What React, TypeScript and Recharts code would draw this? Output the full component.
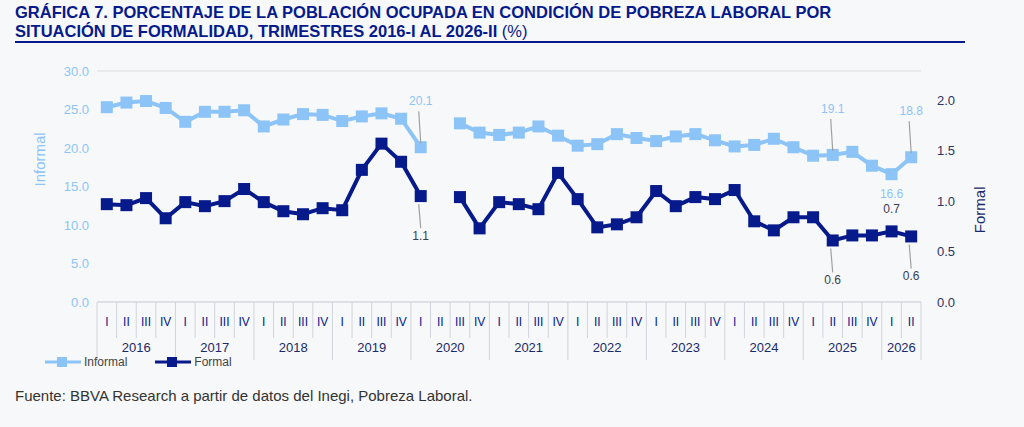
import React from "react"
import { LineChart, Line, XAxis, YAxis, CartesianGrid, LabelList } from "recharts"

const quarters = ["I", "II", "III", "IV"]
const years = ["2016", "2017", "2018", "2019", "2020", "2021", "2022", "2023", "2024", "2025", "2026"]

const informal: (number | null)[] = [
  25.3, 25.9, 26.1, 25.2,
  23.4, 24.7, 24.7, 24.9,
  22.8, 23.7, 24.4, 24.3,
  23.5, 24.1, 24.5, 23.8,
  20.1, null, 23.2, 22.0,
  21.7, 22.0, 22.8, 21.6,
  20.3, 20.5, 21.8, 21.3,
  20.9, 21.5, 21.8, 21.0,
  20.2, 20.4, 21.2, 20.1,
  19.0, 19.1, 19.5, 17.7,
  16.6, 18.8,
]

const formal: (number | null)[] = [
  0.97, 0.96, 1.03, 0.83,
  0.99, 0.95, 1.0, 1.12,
  0.99, 0.9, 0.87, 0.93,
  0.91, 1.31, 1.57, 1.39,
  1.05, null, 1.04, 0.73,
  0.99, 0.97, 0.92, 1.28,
  1.02, 0.74, 0.77, 0.84,
  1.1, 0.95, 1.04, 1.02,
  1.11, 0.8, 0.71, 0.84,
  0.84, 0.61, 0.66, 0.66,
  0.7, 0.65,
]

// labelled points: index -> [text, position, leader line]
const informalLabels: Record<number, [string, "up" | "down", boolean]> = {
  16: ["20.1", "up", true],
  37: ["19.1", "up", true],
  40: ["16.6", "down", false],
  41: ["18.8", "up", true],
}
const formalLabels: Record<number, [string, "up" | "down", boolean]> = {
  16: ["1.1", "down", true],
  37: ["0.6", "down", true],
  40: ["0.7", "up", false],
  41: ["0.6", "down", true],
}

const data = informal.map((v, i) => ({
  key: `${years[Math.floor(i / 4)]}-${quarters[i % 4]}`,
  q: quarters[i % 4],
  year: years[Math.floor(i / 4)],
  informal: v,
  formal: formal[i],
}))

const LIGHT = "#8cc4f7"
const NAVY = "#061a8c"
const FONT = "'Liberation Sans', Arial, sans-serif"
const PLOT_L = 97
const PLOT_R = 921
const BW = (PLOT_R - PLOT_L) / data.length

const Square = (color: string) => (props: any) => {
  const { cx, cy, value } = props
  if (value == null || cx == null) return null
  return <rect x={cx - 6} y={cy - 6} width={12} height={12} fill={color} />
}

const makeLabel = (labels: typeof informalLabels, color: string) => (props: any) => {
  const { x, y, width, index } = props
  const l = labels[index]
  if (!l) return null
  const cx = x + (width || 0) / 2
  const [text, pos, line] = l
  const up = pos === "up"
  const ty = line ? (up ? y - 42 : y + 44) : up ? y - 18 : y + 24
  return (
    <g>
      {line && (
        <line x1={cx - 2} y1={up ? y - 36 : y + 8} x2={cx} y2={up ? y - 4 : y + 32} stroke="#a0a0a0" strokeWidth={1.2} />
      )}
      <text x={cx} y={ty} textAnchor="middle" fontSize={12} fill={color} fontFamily={FONT}>
        {text}
      </text>
    </g>
  )
}

const CatTick = (props: any) => {
  const { x, y, index } = props
  const d = data[index]
  if (!d) return null
  const left = x - BW / 2
  const isFirst = d.q === "I"
  const last = index === data.length - 1
  const yearCount = data.filter((r) => r.year === d.year).length
  return (
    <g fontFamily={FONT}>
      <line x1={left} y1={y - 8} x2={left} y2={isFirst ? y + 50 : y + 28} stroke="#d0d4dc" />
      {last && <line x1={left + BW} y1={y - 8} x2={left + BW} y2={y + 50} stroke="#d0d4dc" />}
      <text x={x} y={y + 16} textAnchor="middle" fontSize={12} fill={NAVY}>
        {d.q}
      </text>
      {isFirst && (
        <text x={left + (yearCount * BW) / 2} y={y + 42} textAnchor="middle" fontSize={13} fill="#1b2a6b">
          {d.year}
        </text>
      )}
    </g>
  )
}

export default function App() {
  return (
    <div style={{ position: "absolute", left: 0, top: 0, width: 1024, height: 427, background: "#f7f8f9", fontFamily: FONT, overflow: "hidden" }}>
      <div style={{ position: "absolute", left: 15, top: 3, width: 960, color: NAVY, fontSize: 16.5, fontWeight: 700, lineHeight: "19px" }}>
        GRÁFICA 7. PORCENTAJE DE LA POBLACIÓN OCUPADA EN CONDICIÓN DE POBREZA LABORAL POR<br />SITUACIÓN DE FORMALIDAD, TRIMESTRES 2016-I AL 2026-II <span style={{ fontWeight: 400 }}>(%)</span>
      </div>
      <div style={{ position: "absolute", left: 15, top: 41, width: 950, height: 1.5, background: NAVY }} />
      <div style={{ position: "absolute", left: 0, top: 0 }}>
        <LineChart width={1024} height={360} data={data} margin={{ top: 71, right: 0, left: 0, bottom: 0 }}>
          <CartesianGrid vertical={false} stroke="#d9dce2" />
          <XAxis dataKey="key" scale="band" interval={0} height={58} axisLine={{ stroke: "#d0d4dc" }} tickLine={false} tick={<CatTick />} />
          <YAxis yAxisId="l" width={PLOT_L} domain={[0, 30]} ticks={[0, 5, 10, 15, 20, 25, 30]} tickFormatter={(v) => v.toFixed(1)} axisLine={false} tickLine={false} tick={{ fill: LIGHT, fontSize: 13, fontFamily: FONT }} label={{ value: "Informal", angle: -90, position: "insideLeft", offset: 40, fill: LIGHT, fontSize: 15, fontFamily: FONT }} />
          <YAxis yAxisId="r" orientation="right" width={1024 - PLOT_R} domain={[0, 2.29]} ticks={[0, 0.5, 1, 1.5, 2]} tickFormatter={(v) => v.toFixed(1)} axisLine={false} tickLine={false} tick={{ fill: "#2b3566", fontSize: 13, fontFamily: FONT, dx: 8 }} label={{ value: "Formal", angle: -90, position: "insideRight", offset: 44, fill: "#1b2a6b", fontSize: 15, fontFamily: FONT }} />
          <Line yAxisId="l" dataKey="informal" stroke={LIGHT} strokeWidth={4} dot={Square(LIGHT)} isAnimationActive={false} connectNulls={false}>
            <LabelList dataKey="informal" content={makeLabel(informalLabels, LIGHT)} />
          </Line>
          <Line yAxisId="r" dataKey="formal" stroke={NAVY} strokeWidth={4} dot={Square(NAVY)} isAnimationActive={false} connectNulls={false}>
            <LabelList dataKey="formal" content={makeLabel(formalLabels, "#3b4050")} />
          </Line>
        </LineChart>
      </div>
      <div style={{ position: "absolute", left: 45, top: 355, display: "flex", alignItems: "center", fontSize: 12, color: "#444" }}>
        <svg width={36} height={12}><line x1={0} y1={6} x2={36} y2={6} stroke={LIGHT} strokeWidth={3} /><rect x={12} y={1} width={10} height={10} fill={LIGHT} /></svg>
        <span style={{ marginLeft: 3, marginRight: 28 }}>Informal</span>
        <svg width={36} height={12}><line x1={0} y1={6} x2={36} y2={6} stroke={NAVY} strokeWidth={3} /><rect x={12} y={1} width={10} height={10} fill={NAVY} /></svg>
        <span style={{ marginLeft: 3 }}>Formal</span>
      </div>
      <div style={{ position: "absolute", left: 15, top: 387, fontSize: 15, color: "#333" }}>
        Fuente: BBVA Research a partir de datos del Inegi, Pobreza Laboral.
      </div>
    </div>
  )
}
